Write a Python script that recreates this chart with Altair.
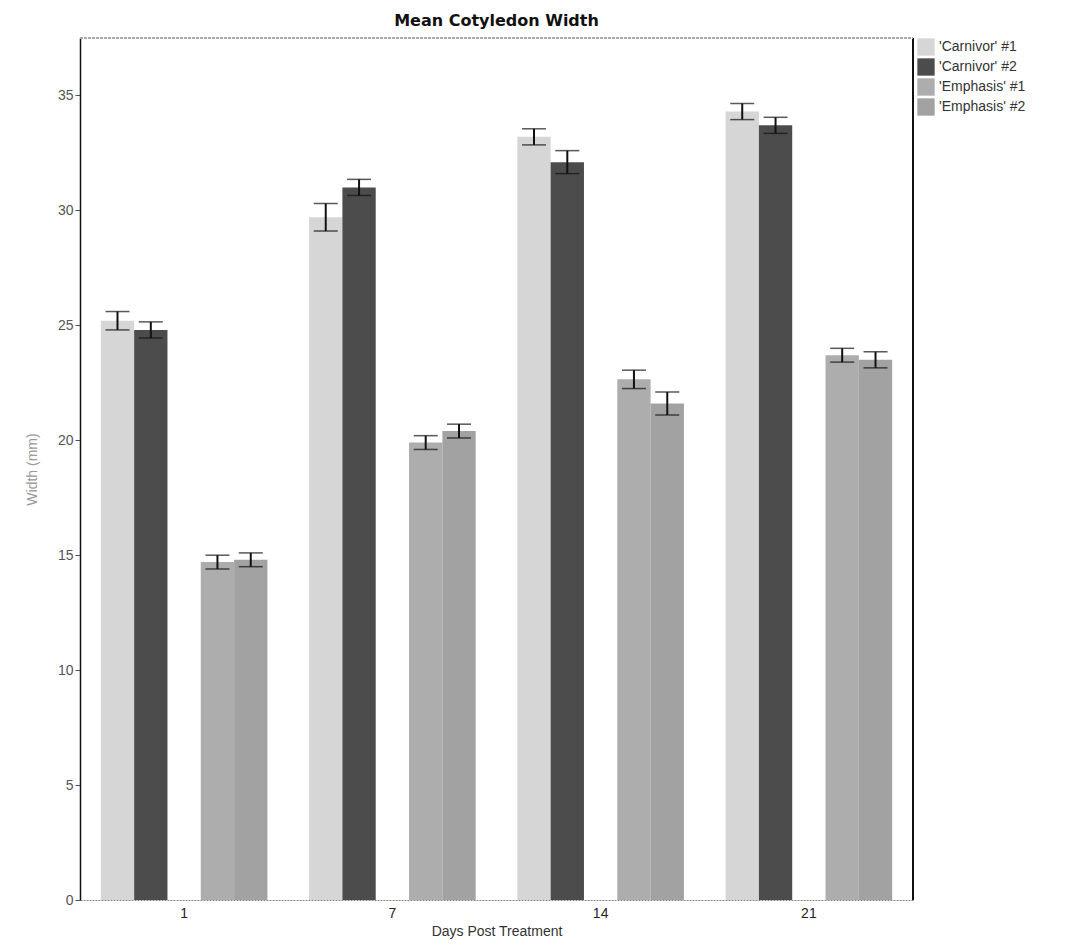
import altair as alt
import pandas as pd

days = ["1", "7", "14", "21"]
series = ["'Carnivor' #1", "'Carnivor' #2", "'Emphasis' #1", "'Emphasis' #2"]
means = {
    "'Carnivor' #1": [25.2, 29.7, 33.2, 34.3],
    "'Carnivor' #2": [24.8, 31.0, 32.1, 33.7],
    "'Emphasis' #1": [14.7, 19.9, 22.65, 23.7],
    "'Emphasis' #2": [14.8, 20.4, 21.6, 23.5],
}
errors = {
    "'Carnivor' #1": [0.4, 0.6, 0.35, 0.35],
    "'Carnivor' #2": [0.35, 0.35, 0.5, 0.35],
    "'Emphasis' #1": [0.3, 0.3, 0.4, 0.3],
    "'Emphasis' #2": [0.3, 0.3, 0.5, 0.35],
}
colors = ["#d6d6d6", "#4c4c4c", "#adadad", "#a2a2a2"]

rows = []
for s in series:
    for i, d in enumerate(days):
        m = means[s][i]
        e = errors[s][i]
        rows.append({"day": d, "series": s, "mean": m, "lo": m - e, "hi": m + e})
df = pd.DataFrame(rows)

offset_domain = [series[0], series[1], "spacer", series[2], series[3]]

W, H = 833, 862

x = alt.X("day:N", sort=days,
          scale=alt.Scale(domain=days, paddingInner=0.2, paddingOuter=0.1),
          axis=alt.Axis(title="Days Post Treatment", labelAngle=0, ticks=False,
                        labelFontSize=14, labelColor="#222222", titleFontSize=14,
                        titleColor="#333333", titleFontWeight="normal",
                        domainColor="#888888", domainDash=[2, 1], labelPadding=6,
                        titlePadding=4, labelFont="Liberation Sans", titleFont="Liberation Sans"))
xo = alt.XOffset("series:N", scale=alt.Scale(domain=offset_domain, paddingInner=0, paddingOuter=0))

base = alt.Chart(df)

bars = base.mark_bar().encode(
    x=x,
    xOffset=xo,
    y=alt.Y("mean:Q", scale=alt.Scale(domain=[0, 37.5], nice=False),
            axis=alt.Axis(title="Width (mm)", values=[0, 5, 10, 15, 20, 25, 30, 35],
                          grid=False, tickSize=5, labelFontSize=14, labelColor="#555555",
                          titleFontSize=14, titleColor="#999999", titleFontWeight="normal",
                          domainColor="#111111", domainWidth=1.5, tickColor="#555555",
                          labelFont="Liberation Sans", titleFont="Liberation Sans",
                          titlePadding=18)),
    color=alt.Color("series:N", scale=alt.Scale(domain=series, range=colors),
                    legend=alt.Legend(title=None, orient="right", offset=4,
                                      symbolType="square", symbolSize=300,
                                      symbolStrokeWidth=0, labelFontSize=14,
                                      labelFont="Liberation Sans", labelColor="#333333",
                                      rowPadding=2, symbolOpacity=1)),
)

rule = base.mark_rule(color="#111111", strokeWidth=2).encode(
    x=x, xOffset=xo, y="lo:Q", y2="hi:Q"
)
cap_hi = base.mark_tick(color="#111111", thickness=1.5, size=24).encode(
    x=x, xOffset=xo, y="hi:Q"
)
cap_lo = base.mark_tick(color="#111111", thickness=1.5, size=24).encode(
    x=x, xOffset=xo, y="lo:Q"
)

frame_right = alt.Chart().mark_rule(color="#111111", strokeWidth=1.5).encode(
    x=alt.value(W), y=alt.value(0), y2=alt.value(H)
)
frame_top = alt.Chart().mark_rule(color="#aaaaaa", strokeWidth=1, strokeDash=[3, 1]).encode(
    x=alt.value(0), x2=alt.value(W), y=alt.value(0)
)

chart = alt.layer(bars, rule, cap_hi, cap_lo, frame_right, frame_top, data=df).properties(
    width=W, height=H,
    title=alt.TitleParams("Mean Cotyledon Width", fontSize=16, fontWeight="bold",
                          font="DejaVu Sans", color="#111111", offset=8),
    autosize=alt.AutoSizeParams(type="none"),
    padding={"left": 72, "top": 30, "right": 160, "bottom": 40},
).configure_view(
    stroke=None
)

chart.save("out.html", embed_options={"renderer": "svg", "actions": False})
